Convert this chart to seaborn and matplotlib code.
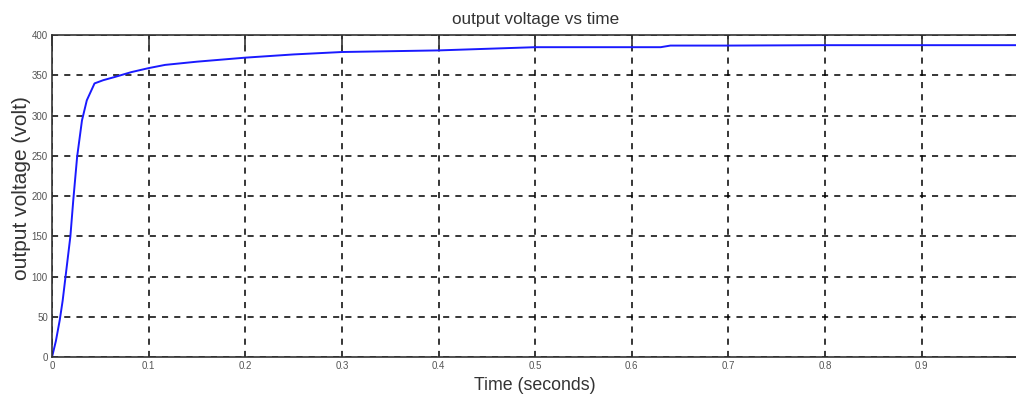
import matplotlib
matplotlib.use("Agg")
import matplotlib.pyplot as plt
import seaborn as sns
import pandas as pd

# valores
time_s = [0.0, 0.004, 0.008, 0.011, 0.014, 0.019, 0.022, 0.026, 0.031, 0.036,
          0.044, 0.053, 0.065, 0.082, 0.100, 0.117, 0.150, 0.200, 0.250, 0.300,
          0.400, 0.500, 0.630, 0.640, 0.700, 0.800, 0.900, 1.000]
voltage = [0, 20, 46, 70, 100, 150, 195, 249, 294, 319,
           340, 344, 348, 354, 359, 363, 367, 372, 376, 379,
           381, 385, 385, 387, 387, 387.5, 387.5, 387.5]
x_ticks = [0, 0.1, 0.2, 0.3, 0.4, 0.5, 0.6, 0.7, 0.8, 0.9, 1.0]
x_labels = ["0", "0.1", "0.2", "0.3", "0.4", "0.5", "0.6", "0.7", "0.8", "0.9", "1"]
y_ticks = [0, 50, 100, 150, 200, 250, 300, 350, 400]

df = pd.DataFrame({"t": time_s, "v": voltage})

sns.set_style("white")
plt.rcParams["font.family"] = ["Liberation Sans", "DejaVu Sans"]

fig = plt.figure(figsize=(10.16, 3.99), dpi=100)
ax = fig.add_axes([0.0512, 0.105, 0.951, 0.807])

sns.lineplot(data=df, x="t", y="v", color="#1a1aff", linewidth=1.4, ax=ax)

ax.set_xlim(0, 1)
ax.set_ylim(0, 400)
ax.set_xticks(x_ticks)
ax.set_xticklabels(x_labels)
ax.set_yticks(y_ticks)
ax.grid(True, color="black", linestyle=(0, (4, 4)), linewidth=1.1)
ax.tick_params(direction="in", length=8, width=1.2, top=True, right=True,
               labelsize=7, colors="#333333", pad=3)
ax.tick_params(axis="x", labelcolor="#555555")
ax.tick_params(axis="y", labelcolor="#555555")
for s in ax.spines.values():
    s.set_color("#333333")
    s.set_linewidth(1.2)

ax.set_title("output voltage vs time", fontsize=12.3, color="#333333", pad=8)
ax.set_xlabel("Time (seconds)", fontsize=12.8, color="#333333", labelpad=4)
ax.set_ylabel("output voltage (volt)", fontsize=15, color="#333333")
ax.yaxis.set_label_coords(-0.022, 0.525)

fig.savefig("out.png", dpi=100)
